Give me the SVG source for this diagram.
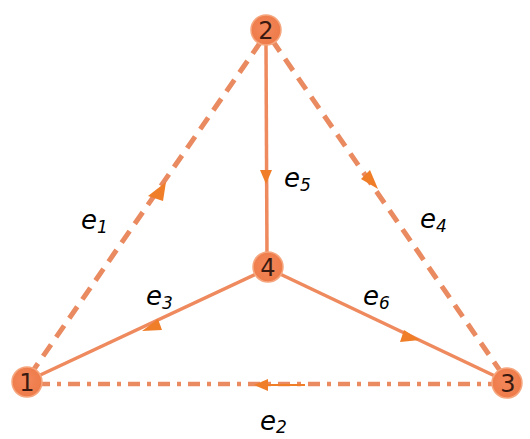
<svg xmlns="http://www.w3.org/2000/svg" width="530" height="439" viewBox="0 0 530 439">
<style>
.dash{stroke:#E98A60;stroke-width:5;stroke-dasharray:14 9;fill:none}
.solid{stroke:#EE8A5E;stroke-width:3.5;fill:none}
.arr{fill:#F07D28}
.nd{fill:url(#g);stroke:#F5A67E;stroke-width:1.5}
.nt{font-family:"DejaVu Sans",Verdana,sans-serif;font-size:24px;fill:#3a1a10;text-anchor:middle}
.lb{font-family:"DejaVu Sans",Verdana,sans-serif;font-style:italic;font-size:26px;fill:#000}
.sb{font-size:17px}
</style>
<defs>
<radialGradient id="g" cx="0.45" cy="0.45" r="0.6">
<stop offset="0" stop-color="#F3875A"/>
<stop offset="1" stop-color="#EE7A48"/>
</radialGradient>
</defs>
<rect width="530" height="439" fill="#fff"/>
<g id="edges">
<line class="dash" x1="30" y1="375" x2="262" y2="40"/>
<line class="dash" x1="272" y1="40" x2="503" y2="375"/>
<line class="dash" x1="500" y1="384" x2="40" y2="384" style="stroke-dasharray:12 7 4 7;stroke-width:4.5"/>
<line class="solid" x1="266" y1="44" x2="267" y2="256"/>
<line class="solid" x1="256" y1="274" x2="36" y2="377"/>
<line class="solid" x1="280" y1="274" x2="497" y2="377"/>
<line x1="265" y1="385" x2="305" y2="385" stroke="#F07D28" stroke-width="2"/>
<polygon class="arr" points="166,182 148,196 163,201"/>
<polygon class="arr" points="378,189 370,170 361,179"/>
<polygon class="arr" points="266,184 260,170 272,170"/>
<polygon class="arr" points="142,331 158,319 162,330"/>
<polygon class="arr" points="420,340 404,330 400,342"/>
<polygon class="arr" points="254,385 268,379 268,391"/>
</g>
<g id="n2"><circle class="nd" cx="266" cy="30" r="15"/><text class="nt" x="266" y="39">2</text></g>
<g id="n1"><circle class="nd" cx="27" cy="382" r="15"/><text class="nt" x="27" y="391">1</text></g>
<g id="n3"><circle class="nd" cx="507" cy="383" r="15"/><text class="nt" x="508" y="392">3</text></g>
<g id="n4"><circle class="nd" cx="268" cy="267" r="15"/><text class="nt" x="268" y="276">4</text></g>
<g id="labels">
<text class="lb" x="81" y="229">e<tspan class="sb" dy="4">1</tspan></text>
<text class="lb" x="284" y="187">e<tspan class="sb" dy="4">5</tspan></text>
<text class="lb" x="420" y="228">e<tspan class="sb" dy="4">4</tspan></text>
<text class="lb" x="146" y="305">e<tspan class="sb" dy="4">3</tspan></text>
<text class="lb" x="363" y="305">e<tspan class="sb" dy="4">6</tspan></text>
<text class="lb" x="260" y="430">e<tspan class="sb" dy="3">2</tspan></text>
</g>
</svg>
